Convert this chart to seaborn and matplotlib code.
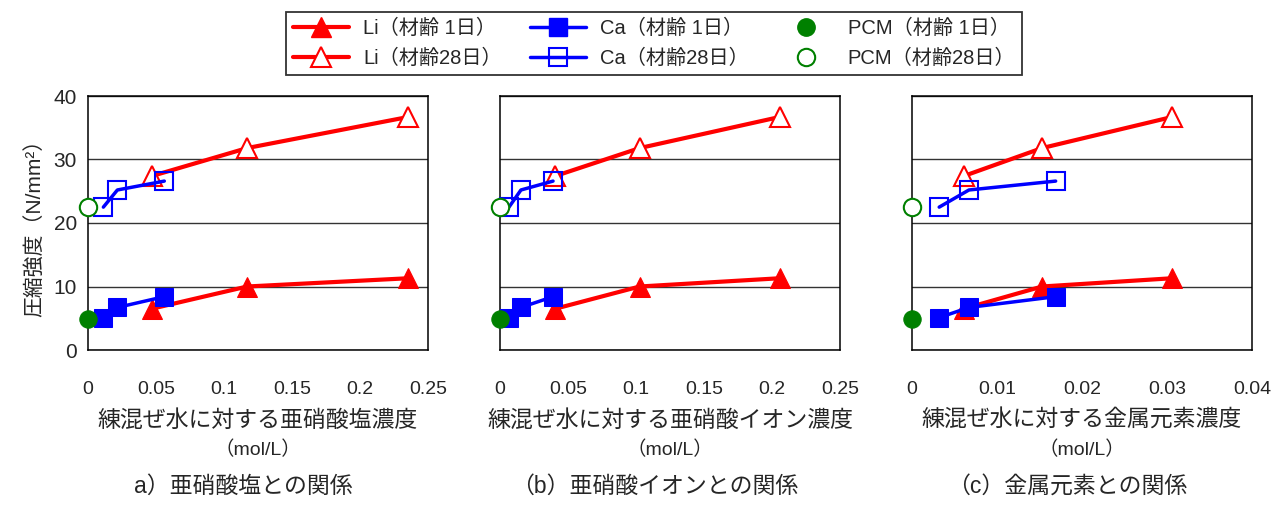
import numpy as np
import matplotlib
matplotlib.use("Agg")
import matplotlib.pyplot as plt
from matplotlib.lines import Line2D
import seaborn as sns

# values
li_x_salt = [0.047, 0.117, 0.2355]
li_x_ion = [0.0407, 0.1027, 0.2057]
li_x_metal = [0.0061, 0.0153, 0.0306]
ca_x_salt = [0.0113, 0.0216, 0.0561]
ca_x_ion = [0.0066, 0.0154, 0.039]
ca_x_metal = [0.0032, 0.0067, 0.0169]

li_day1 = [6.5, 10.0, 11.3]
li_day28 = [27.4, 31.8, 36.7]
ca_day1 = [5.1, 6.7, 8.4]
ca_day28 = [22.5, 25.2, 26.6]
pcm_day1 = 4.9
pcm_day28 = 22.5

xlims = [0.25, 0.25, 0.04]
xticks = [[0, 0.05, 0.1, 0.15, 0.2, 0.25],
          [0, 0.05, 0.1, 0.15, 0.2, 0.25],
          [0, 0.01, 0.02, 0.03, 0.04]]
xticklabels = [["0", "0.05", "0.1", "0.15", "0.2", "0.25"],
               ["0", "0.05", "0.1", "0.15", "0.2", "0.25"],
               ["0", "0.01", "0.02", "0.03", "0.04"]]
xlabels = ["練混ぜ水に対する亜硝酸塩濃度",
           "練混ぜ水に対する亜硝酸イオン濃度",
           "練混ぜ水に対する金属元素濃度"]
captions = ["a）亜硝酸塩との関係", "（b）亜硝酸イオンとの関係", "（c）金属元素との関係"]
legend_labels = ["Li（材齢 1日）", "Li（材齢28日）", "Ca（材齢 1日）",
                 "Ca（材齢28日）", "PCM（材齢 1日）", "PCM（材齢28日）"]

sns.set_style("white")
plt.rcParams["font.family"] = ["Liberation Sans", "Noto Sans CJK JP", "DejaVu Sans"]

W, H = 1287, 507
fig = plt.figure(figsize=(W / 100, H / 100), dpi=100)

lefts = [88, 500, 912]
ax_w, ax_top, ax_bot = 340, 96, 350

red, blue, green = "#ff0000", "#0000ff", "#008000"
li_xs = [li_x_salt, li_x_ion, li_x_metal]
ca_xs = [ca_x_salt, ca_x_ion, ca_x_metal]

for i in range(3):
    ax = fig.add_axes([lefts[i] / W, (H - ax_bot) / H, ax_w / W, (ax_bot - ax_top) / H])

    # Li series
    sns.lineplot(x=li_xs[i], y=li_day1, ax=ax, color=red, linewidth=3, marker="^",
                 markersize=14.5, markerfacecolor=red, markeredgecolor=red,
                 sort=False, clip_on=False, zorder=3)
    sns.lineplot(x=li_xs[i], y=li_day28, ax=ax, color=red, linewidth=3, marker="^",
                 markersize=14.5, markerfacecolor="white", markeredgecolor=red,
                 markeredgewidth=1.5, sort=False, clip_on=False, zorder=3)
    # Ca series
    sns.lineplot(x=ca_xs[i], y=ca_day1, ax=ax, color=blue, linewidth=2.5, marker="s",
                 markersize=13.5, markerfacecolor=blue, markeredgecolor=blue,
                 sort=False, clip_on=False, zorder=4)
    sns.lineplot(x=ca_xs[i], y=ca_day28, ax=ax, color=blue, linewidth=2.5, marker="s",
                 markersize=13.5, markerfacecolor="none", markeredgecolor=blue,
                 markeredgewidth=1.5, sort=False, clip_on=False, zorder=4)
    # plain cement
    sns.lineplot(x=[0], y=[pcm_day1], ax=ax, color=green, marker="o", markersize=12.5,
                 markerfacecolor=green, markeredgecolor=green, clip_on=False, zorder=5)
    sns.lineplot(x=[0], y=[pcm_day28], ax=ax, color=green, marker="o", markersize=12.5,
                 markerfacecolor="white", markeredgecolor=green, markeredgewidth=1.5,
                 clip_on=False, zorder=5)

    ax.set_xlim(0, xlims[i])
    ax.set_ylim(0, 40)
    ax.set_xticks(xticks[i])
    ax.set_xticklabels(xticklabels[i], fontsize=14)
    ax.set_yticks([0, 10, 20, 30, 40])
    if i == 0:
        ax.set_yticklabels(["0", "10", "20", "30", "40"], fontsize=15)
        ax.set_ylabel("圧縮強度（N/mm²）", fontsize=15, labelpad=6)
    else:
        ax.set_yticklabels([])
    ax.tick_params(axis="x", direction="in", length=6, width=1, pad=22, color="black")
    ax.tick_params(axis="y", length=0, pad=8)
    ax.grid(axis="y", color="#333333", linewidth=1)
    ax.grid(axis="x", visible=False)
    ax.set_xlabel("")
    for sp in ax.spines.values():
        sp.set_color("black")
        sp.set_linewidth(1.1)

    cx = (lefts[i] + ax_w / 2) / W
    fig.text(cx, 1 - 420 / H, xlabels[i], ha="center", va="center", fontsize=16.5)
    fig.text(cx, 1 - 450 / H, "（mol/L）", ha="center", va="center", fontsize=14)
    fig.text(cx - 15 / W, 1 - 486 / H, captions[i], ha="center", va="center", fontsize=16.5)

handles = [
    Line2D([], [], color=red, lw=3, marker="^", ms=14, mfc=red, mec=red),
    Line2D([], [], color=red, lw=3, marker="^", ms=14, mfc="white", mec=red, mew=1.5),
    Line2D([], [], color=blue, lw=2.5, marker="s", ms=13, mfc=blue, mec=blue),
    Line2D([], [], color=blue, lw=2.5, marker="s", ms=13, mfc="none", mec=blue, mew=1.5),
    Line2D([], [], color=green, lw=0, marker="o", ms=12.5, mfc=green, mec=green),
    Line2D([], [], color=green, lw=0, marker="o", ms=12.5, mfc="white", mec=green, mew=1.5),
]
leg = fig.legend(handles, legend_labels, ncol=3, loc="center",
                 bbox_to_anchor=(654 / W, 1 - 43.5 / H), fontsize=14.5,
                 frameon=True, fancybox=False, edgecolor="black",
                 handlelength=2.8, handletextpad=0.7, columnspacing=1.4,
                 labelspacing=0.55, borderpad=0.35)
leg.get_frame().set_linewidth(1.3)

fig.savefig("out.png", dpi=100)
